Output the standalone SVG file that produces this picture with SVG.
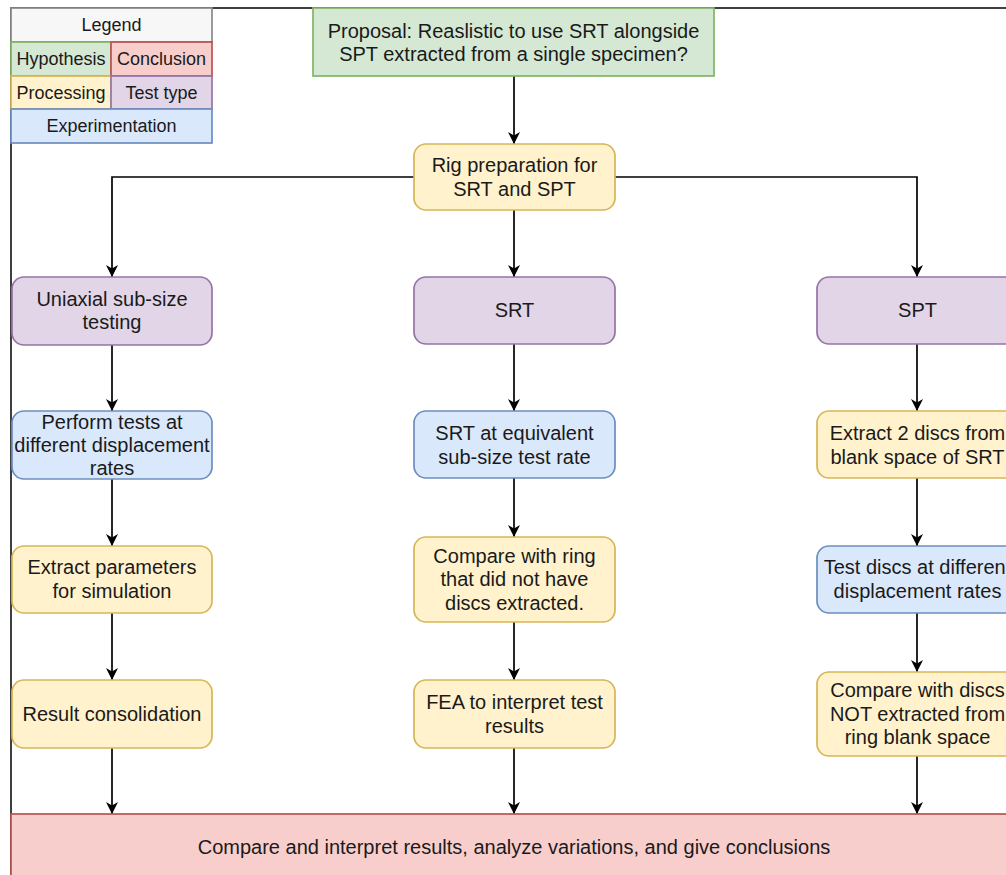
<svg xmlns="http://www.w3.org/2000/svg" width="1006" height="875" viewBox="0 0 1006 875">
<style>
text{font-family:"Liberation Sans",Arial,Helvetica,sans-serif;fill:#1a1a1a;text-anchor:middle;dominant-baseline:central}
.t{font-size:20px}
.l{font-size:18px}
.g{fill:#d5e8d4;stroke:#82b366;stroke-width:1.7}
.r{fill:#f8cecc;stroke:#b85450;stroke-width:1.7}
.y{fill:#fff2cc;stroke:#d6b656;stroke-width:1.7}
.p{fill:#e1d5e7;stroke:#9673a6;stroke-width:1.7}
.b{fill:#dae8fc;stroke:#6c8ebf;stroke-width:1.7}
.w{fill:#f7f7f7;stroke:#8a8a8a;stroke-width:1.7}
.c{fill:none;stroke:#000;stroke-width:1.7;marker-end:url(#arr)}
</style>
<defs>
<marker id="arr" viewBox="0 0 12 12" refX="12" refY="6" markerWidth="12" markerHeight="12" markerUnits="userSpaceOnUse" orient="auto">
<path d="M0,0 L12,6 L0,12 L3.5,6 Z" fill="#000"/>
</marker>
</defs>
<rect width="1006" height="875" fill="#fff"/>
<path d="M11,880 V8 H1010" fill="none" stroke="#000" stroke-width="1.5"/>

<g id="legend">
<rect class="w" x="11" y="8" width="201" height="34"/>
<text class="l" x="111.5" y="25">Legend</text>
<rect class="g" x="11" y="42" width="100" height="34"/>
<text class="l" x="61" y="59">Hypothesis</text>
<rect class="r" x="111" y="42" width="101" height="34"/>
<text class="l" x="161.5" y="59">Conclusion</text>
<rect class="y" x="11" y="76" width="100" height="33"/>
<text class="l" x="61" y="92.5">Processing</text>
<rect class="p" x="111" y="76" width="101" height="33"/>
<text class="l" x="161.5" y="92.5">Test type</text>
<rect class="b" x="11" y="109" width="201" height="34"/>
<text class="l" x="111.5" y="126">Experimentation</text>
</g>

<g id="connectors">
<path class="c" d="M514,76 V144"/>
<path class="c" d="M414,177 H112 V277"/>
<path class="c" d="M615,177 H917 V277"/>
<path class="c" d="M514,210 V277"/>
<path class="c" d="M112,345 V411"/>
<path class="c" d="M112,479 V546"/>
<path class="c" d="M112,613 V680"/>
<path class="c" d="M112,748 V814"/>
<path class="c" d="M514,344 V411"/>
<path class="c" d="M514,478 V537"/>
<path class="c" d="M514,622 V680"/>
<path class="c" d="M514,748 V814"/>
<path class="c" d="M917,344 V411"/>
<path class="c" d="M917,478 V546"/>
<path class="c" d="M917,613 V672"/>
<path class="c" d="M917,756 V814"/>
</g>

<g id="proposal">
<rect class="g" x="313" y="8" width="401" height="68"/>
<text class="t" x="513.5" y="31">Proposal: Reaslistic to use SRT alongside</text>
<text class="t" x="513.5" y="54">SPT extracted from a single specimen?</text>
</g>

<g id="rig">
<rect class="y" x="414" y="144" width="201" height="66" rx="12"/>
<text class="t" x="514.5" y="164.5">Rig preparation for</text>
<text class="t" x="514.5" y="188.5">SRT and SPT</text>
</g>

<g id="uniaxial">
<rect class="p" x="12" y="277" width="200" height="68" rx="12"/>
<text class="t" x="112" y="298.5">Uniaxial sub-size</text>
<text class="t" x="112" y="322">testing</text>
</g>

<g id="srt">
<rect class="p" x="414" y="277" width="201" height="67" rx="12"/>
<text class="t" x="514.5" y="310">SRT</text>
</g>

<g id="spt">
<rect class="p" x="817" y="277" width="201" height="67" rx="12"/>
<text class="t" x="917.5" y="310">SPT</text>
</g>

<g id="perform">
<rect class="b" x="12" y="411" width="200" height="68" rx="12"/>
<text class="t" x="112" y="421.5">Perform tests at</text>
<text class="t" x="112" y="444.5">different displacement</text>
<text class="t" x="112" y="467.5">rates</text>
</g>

<g id="srt-equiv">
<rect class="b" x="414" y="411" width="201" height="67" rx="12"/>
<text class="t" x="514.5" y="433">SRT at equivalent</text>
<text class="t" x="514.5" y="456.5">sub-size test rate</text>
</g>

<g id="extract-discs">
<rect class="y" x="817" y="411" width="201" height="67" rx="12"/>
<text class="t" x="917.5" y="433">Extract 2 discs from</text>
<text class="t" x="917.5" y="456.5">blank space of SRT</text>
</g>

<g id="extract-params">
<rect class="y" x="12" y="546" width="200" height="67" rx="12"/>
<text class="t" x="112" y="567">Extract parameters</text>
<text class="t" x="112" y="590.5">for simulation</text>
</g>

<g id="compare-ring">
<rect class="y" x="414" y="537" width="201" height="85" rx="12"/>
<text class="t" x="514.5" y="555.5">Compare with ring</text>
<text class="t" x="514.5" y="579">that did not have</text>
<text class="t" x="514.5" y="602.5">discs extracted.</text>
</g>

<g id="test-discs">
<rect class="b" x="817" y="546" width="201" height="67" rx="12"/>
<text class="t" x="917.5" y="567">Test discs at different</text>
<text class="t" x="917.5" y="590.5">displacement rates</text>
</g>

<g id="result">
<rect class="y" x="12" y="680" width="200" height="68" rx="12"/>
<text class="t" x="112" y="713.5">Result consolidation</text>
</g>

<g id="fea">
<rect class="y" x="414" y="680" width="201" height="68" rx="12"/>
<text class="t" x="514.5" y="702">FEA to interpret test</text>
<text class="t" x="514.5" y="725.5">results</text>
</g>

<g id="compare-discs">
<rect class="y" x="817" y="672" width="201" height="84" rx="12"/>
<text class="t" x="917.5" y="690">Compare with discs</text>
<text class="t" x="917.5" y="713.5">NOT extracted from</text>
<text class="t" x="917.5" y="737">ring blank space</text>
</g>

<g id="conclusion">
<rect class="r" x="11" y="814" width="1010" height="70"/>
<text class="t" x="514" y="847">Compare and interpret results, analyze variations, and give conclusions</text>
</g>
</svg>
